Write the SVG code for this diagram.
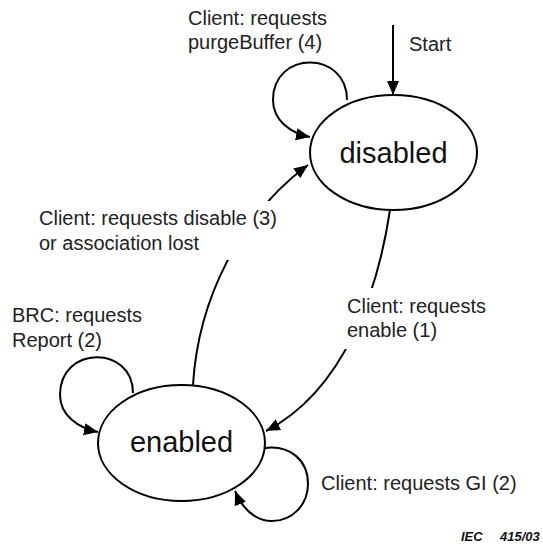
<svg xmlns="http://www.w3.org/2000/svg" width="543" height="546" viewBox="0 0 543 546">
<style>
.node{fill:#fff;stroke:#000;stroke-width:2}
.conn{fill:none;stroke:#000;stroke-width:2;marker-end:url(#arr)}
.lbl{font-family:"Liberation Sans",Arial,sans-serif;font-size:20px;fill:#222}
.name{font-family:"Liberation Sans",Arial,sans-serif;font-size:29px;fill:#111;text-anchor:middle}
.bg{fill:#fff}
.iec{font-family:"Liberation Sans",Arial,sans-serif;font-size:13px;font-weight:bold;font-style:italic;fill:#111}
</style>
<defs>
<marker id="arr" markerUnits="userSpaceOnUse" markerWidth="15" markerHeight="13" refX="14" refY="6" orient="auto">
<path d="M0,0 L14,6 L0,12 Z" fill="#000"/>
</marker>
</defs>
<rect width="543" height="546" fill="#fff"/>
<g id="node-disabled">
<ellipse class="node" cx="393.5" cy="152.5" rx="83.5" ry="57.5"/>
<text class="name" x="393.5" y="163">disabled</text>
</g>
<g id="node-enabled">
<ellipse class="node" cx="181.5" cy="443" rx="83.5" ry="58"/>
<text class="name" x="181.5" y="452">enabled</text>
</g>
<g id="connectors">
<path id="c-start" class="conn" d="M393,25 L393,95"/>
<path id="c-purge" class="conn" d="M347,100 C347,50 273,50 273,100 C273,120 290,133 310,137"/>
<path id="c-disable" class="conn" d="M193,385 C198,300 240,215 308,165"/>
<path id="c-enable" class="conn" d="M390,210 C378,290 345,390 266,431"/>
<path id="c-report" class="conn" d="M133,393 C133,345 60,345 60,395 C60,415 78,428 98,432"/>
<path id="c-gi" class="conn" d="M265,448 C290,445 308,460 308,484 C308,505 292,521 272,521 C255,521 242,508 235,491"/>
</g>
<g id="labels">
<g id="l-purge">
<text class="lbl" x="188" y="25">Client: requests</text>
<text class="lbl" x="188" y="49">purgeBuffer (4)</text>
</g>
<g id="l-start">
<text class="lbl" x="409" y="51">Start</text>
</g>
<g id="l-disable">
<rect class="bg" x="36" y="201" width="250" height="59"/>
<text class="lbl" x="39" y="225">Client: requests disable (3)</text>
<text class="lbl" x="39" y="250">or association lost</text>
</g>
<g id="l-enable">
<rect class="bg" x="343" y="288" width="150" height="61"/>
<text class="lbl" x="347" y="313">Client: requests</text>
<text class="lbl" x="347" y="337">enable (1)</text>
</g>
<g id="l-report">
<text class="lbl" x="12" y="322">BRC: requests</text>
<text class="lbl" x="12" y="347">Report (2)</text>
</g>
<g id="l-gi">
<text class="lbl" x="321" y="490">Client: requests GI (2)</text>
</g>
<g id="l-iec">
<text class="iec" x="461" y="541">IEC</text>
<text class="iec" x="500" y="541">415/03</text>
</g>
</g>
</svg>
